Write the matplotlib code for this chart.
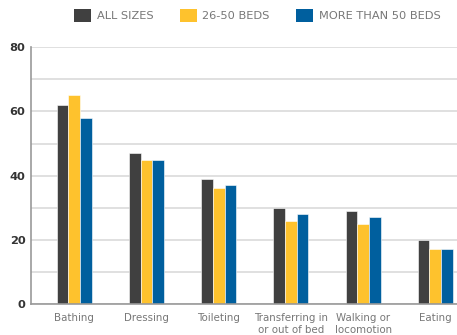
import matplotlib
matplotlib.use("Agg")
import matplotlib.pyplot as plt
import numpy as np
from matplotlib.patches import Patch

categories = ["Bathing", "Dressing", "Toileting", "Transferring in\nor out of bed", "Walking or\nlocomotion", "Eating"]
series_names = ["ALL SIZES", "26-50 BEDS", "MORE THAN 50 BEDS"]
all_sizes = [62, 47, 39, 30, 29, 20]
beds_26_50 = [65, 45, 36, 26, 25, 17]
beds_50_plus = [58, 45, 37, 28, 27, 17]
colors = ["#404040", "#FEC22D", "#005F9E"]

fig = plt.figure(figsize=(4.57, 3.35), dpi=100)
ax = fig.add_axes([31/457, 1-304/335, 1-31/457, (304-47.3)/335])

x = np.arange(len(categories))
w = 0.162
for i, (vals, c) in enumerate(zip([all_sizes, beds_26_50, beds_50_plus], colors)):
    ax.bar(x + (i-1)*w, vals, width=w, color=c, edgecolor="white", linewidth=0.4, zorder=3)

ax.set_xlim(-0.6, 5.3)
ax.set_ylim(0, 80)
ax.set_yticks([0, 20, 40, 60, 80])
ax.set_yticks([10, 30, 50, 70], minor=True)
ax.grid(axis="y", which="both", color="#dadada", linewidth=1.2, zorder=0)
ax.set_xticks(x)
ax.set_xticklabels(categories, fontsize=7.4, color="#777777", linespacing=1.25)
ax.tick_params(axis="x", length=0, pad=6.5)
ax.tick_params(axis="y", which="both", length=0, pad=4, labelsize=8.2, labelcolor="#333333")
for lab in ax.get_yticklabels():
    lab.set_fontweight("bold")
for s in ["top", "right"]:
    ax.spines[s].set_visible(False)
for s in ["left", "bottom"]:
    ax.spines[s].set_color("#999999")
    ax.spines[s].set_linewidth(1.2)
    ax.spines[s].set_zorder(4)

handles = [Patch(facecolor=c, edgecolor="none") for c in colors]
leg = fig.legend(handles, series_names, loc="center", bbox_to_anchor=(0.563, 1-15.5/335), ncol=3,
                 frameon=False, handlelength=1.5, handleheight=1.35,
                 handletextpad=0.5, columnspacing=2.3,
                 prop={"size": 8.2})
for t in leg.get_texts():
    t.set_color("#777777")

fig.savefig("out.png", dpi=100)
